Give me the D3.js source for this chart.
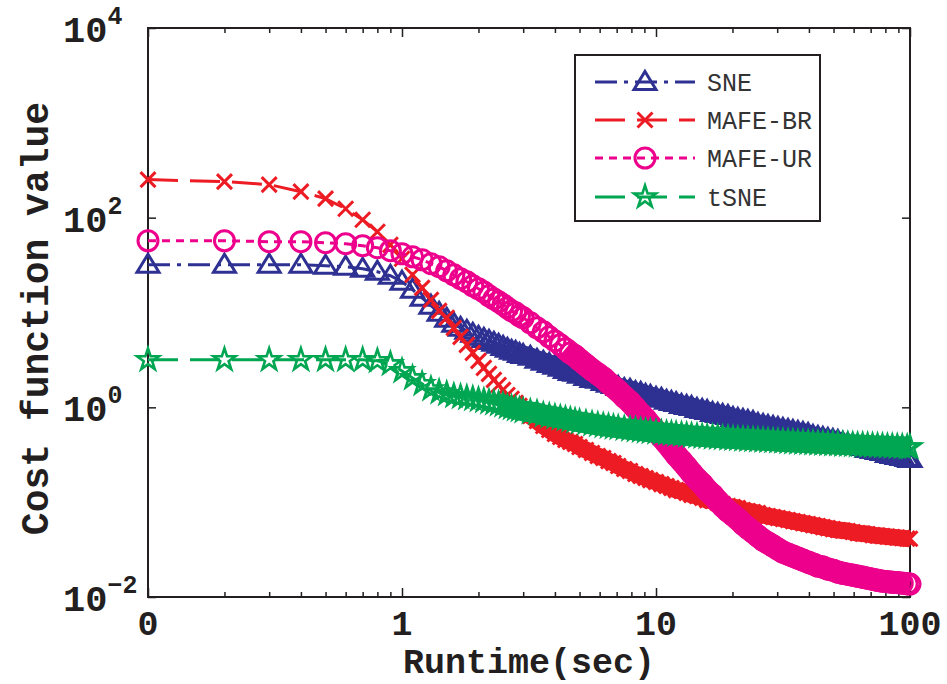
<!DOCTYPE html>
<html>
<head>
<meta charset="utf-8">
<script src="https://cdn.jsdelivr.net/npm/d3@7"></script>
<style>
  html, body { margin: 0; padding: 0; background: #ffffff; }
  svg { display: block; }
</style>
</head>
<body>
<script>
// Runtime (seconds) at which each cost value was recorded
const runtime = [
  0.1,0.2,0.3,0.4,0.5,0.6,0.7,0.8,0.9,1.0,
  1.1,1.2,1.3,1.4,1.5,1.6,1.7,1.8,1.9,2.0,
  2.1,2.2,2.3,2.4,2.5,2.6,2.7,2.8,2.9,3.0,
  3.2,3.4,3.6,3.8,4.0,4.2,4.4,4.6,4.8,5.0,
  5.3,5.6,5.9,6.2,6.5,6.8,7.1,7.5,7.9,8.3,
  8.7,9.1,9.5,10.0,10.5,11.0,11.5,12.0,12.6,13.2,
  13.8,14.5,15.2,15.9,16.7,17.5,18.3,19.2,20.1,21.0,
  22.0,23.0,24.1,25.2,26.4,27.6,28.9,30.2,31.6,33.1,
  34.6,36.2,37.9,39.7,41.5,43.4,45.4,47.5,49.7,52.0,
  54.4,56.9,59.5,62.2,65.1,68.1,71.2,74.5,77.9,81.5,
  85.2,89.1,93.2,97.5,100
];

// Cost function value per method
const sneCost = [
  31.9,31.9,31.9,31.9,31.1,30.4,28.9,26.9,24.4,21.1,
  17.4,14.3,11.8,9.92,8.58,7.59,6.89,6.41,5.96,5.54,
  5.27,5.02,4.79,4.56,4.34,4.14,3.94,3.85,3.66,3.57,
  3.41,3.17,3.02,2.87,2.74,2.61,2.48,2.36,2.31,2.20,
  2.09,1.99,1.95,1.85,1.77,1.72,1.64,1.56,1.53,1.45,
  1.42,1.35,1.32,1.26,1.23,1.17,1.14,1.11,1.06,1.035,
  1.01,0.962,0.939,0.916,0.873,0.852,0.831,0.811,0.773,0.754,
  0.736,0.718,0.701,0.668,0.652,0.636,0.621,0.606,0.592,0.577,
  0.563,0.550,0.537,0.524,0.499,0.487,0.475,0.464,0.453,0.442,
  0.421,0.411,0.401,0.391,0.382,0.364,0.355,0.347,0.338,0.322,
  0.314,0.307,0.300,0.292,0.285
];

const mafeBrCost = [
  252,240,223,188,159,124,95.2,71.1,51.8,36.9,
  25.0,18.2,13.6,10.4,8.79,6.89,5.54,4.56,3.75,3.09,
  2.61,2.25,1.95,1.72,1.53,1.35,1.23,1.113,1.035,0.962,
  0.811,0.718,0.636,0.577,0.524,0.487,0.453,0.431,0.411,0.382,
  0.355,0.330,0.307,0.292,0.271,0.259,0.241,0.224,0.213,0.198,
  0.189,0.180,0.171,0.163,0.155,0.148,0.141,0.134,0.131,0.125,
  0.119,0.116,0.111,0.105,0.103,0.0979,0.0956,0.0910,0.0889,0.0867,
  0.0826,0.0806,0.0787,0.0768,0.0731,0.0714,0.0697,0.0680,0.0664,0.0648,
  0.0632,0.0617,0.0602,0.0588,0.0573,0.0560,0.0546,0.0533,0.0520,0.0508,
  0.0502,0.0496,0.0484,0.0472,0.0466,0.0461,0.0449,0.0444,0.0439,0.0433,
  0.0428,0.0423,0.0418,0.0413,0.0411
];

const mafeUrCost = [
  57.1,57.1,55.8,55.8,54.4,53.1,50.6,48.2,44.8,41.6,
  38.7,36.0,32.7,30.4,27.5,25.0,22.7,21.1,19.1,17.8,
  16.5,15.0,13.9,13.0,12.1,11.2,10.4,9.92,9.23,8.79,
  7.78,6.89,6.25,5.54,5.02,4.56,4.14,3.75,3.49,3.17,
  2.80,2.48,2.25,2.04,1.81,1.64,1.49,1.29,1.14,0.986,
  0.852,0.754,0.652,0.563,0.487,0.421,0.364,0.314,0.272,0.235,
  0.203,0.175,0.155,0.134,0.119,0.103,0.0910,0.0806,0.0731,0.0664,
  0.0588,0.0533,0.0484,0.0439,0.0398,0.0371,0.0345,0.0320,0.0298,0.0283,
  0.0270,0.0257,0.0245,0.0233,0.0223,0.0212,0.0207,0.0197,0.0192,0.0183,
  0.0178,0.0174,0.0170,0.0166,0.0162,0.0158,0.0154,0.0150,0.0147,0.0145,
  0.0143,0.0142,0.0140,0.0138,0.0137
];

const tsneCost = [
  3.17,3.17,3.17,3.17,3.17,3.17,3.17,3.09,2.87,2.42,
  2.04,1.77,1.56,1.45,1.385,1.32,1.29,1.26,1.23,1.20,
  1.17,1.14,1.11,1.086,1.06,1.01,0.986,0.962,0.939,0.916,
  0.894,0.873,0.831,0.811,0.792,0.773,0.754,0.736,0.718,0.701,
  0.684,0.668,0.653,0.640,0.628,0.617,0.607,0.596,0.586,0.577,
  0.568,0.560,0.553,0.545,0.538,0.532,0.526,0.520,0.515,0.508,
  0.502,0.497,0.492,0.488,0.484,0.480,0.476,0.472,0.468,0.465,
  0.461,0.458,0.455,0.452,0.449,0.446,0.443,0.440,0.437,0.434,
  0.431,0.428,0.426,0.423,0.421,0.418,0.416,0.413,0.411,0.409,
  0.406,0.404,0.402,0.400,0.398,0.396,0.394,0.392,0.390,0.388,
  0.386,0.384,0.383,0.381,0.380
];

const seriesNames = ["SNE", "MAFE-BR", "MAFE-UR", "tSNE"];
const seriesValues = [sneCost, mafeBrCost, mafeUrCost, tsneCost];

// Axis ticks and their labels
const xTickValues = [0.1, 1, 10, 100];
const xTickLabels = ["0", "1", "10", "100"];
const yTickValues = [1e-2, 1e0, 1e2, 1e4];
const yTickExponents = ["\u22122", "0", "2", "4"];

const xLabel = "Runtime(sec)";
const yLabel = "Cost function value";

// ---- styling ----
const W = 947, H = 684;
const plot = { left: 148, right: 910, top: 28, bottom: 597 };
const ink = "#231f20";
const monoFont = "'Liberation Mono', 'Courier New', Courier, monospace";

// bandFrom: runtime after which the markers sit so close together that
// they merge into one solid ribbon; bandWidth is that ribbon's thickness
const styles = [
  { color: "#2e3192", dash: "22,7,4,7", marker: "triangle", bandFrom: 2.8, bandWidth: 19 },
  { color: "#ed1c24", dash: "30,12",    marker: "cross",    bandFrom: 2.8, bandWidth: 17 },
  { color: "#ec008c", dash: "8,6",      marker: "circle",   bandFrom: 4.4, bandWidth: 23 },
  { color: "#00a651", dash: "30,12",    marker: "star",     bandFrom: 2.4, bandWidth: 21 }
];

function markerPath(kind) {
  if (kind === "triangle") return "M0,-10.5L11,7.5L-11,7.5Z";
  if (kind === "cross") return "M-7.5,-7.5L7.5,7.5M-7.5,7.5L7.5,-7.5";
  if (kind === "circle") return "M10,0A10,10 0 1,1 -10,0A10,10 0 1,1 10,0Z";
  // five-pointed star
  const R = 11.5, r = 4.4;
  let p = "";
  for (let i = 0; i < 10; i++) {
    const rad = i % 2 === 0 ? R : r;
    const a = -Math.PI / 2 + i * Math.PI / 5;
    p += (i === 0 ? "M" : "L") + (rad * Math.cos(a)).toFixed(2) + "," + (rad * Math.sin(a)).toFixed(2);
  }
  return p + "Z";
}

const svg = d3.select("body").append("svg")
  .attr("width", W).attr("height", H)
  .attr("viewBox", `0 0 ${W} ${H}`);

svg.append("rect").attr("width", W).attr("height", H).attr("fill", "#fff");

const x = d3.scaleLog().domain([0.1, 100]).range([plot.left, plot.right]);
const y = d3.scaleLog().domain([1e-2, 1e4]).range([plot.bottom, plot.top]);

// ---- frame ----
svg.append("rect")
  .attr("x", plot.left).attr("y", plot.top)
  .attr("width", plot.right - plot.left).attr("height", plot.bottom - plot.top)
  .attr("fill", "none").attr("stroke", ink).attr("stroke-width", 2);

// ---- ticks (inward, mirrored on opposite sides) ----
const xMinor = [];
[0.1, 1, 10].forEach(d => { for (let k = 2; k <= 9; k++) xMinor.push(d * k); });

function tickGroup(axis, tx, ty) {
  const g = svg.append("g").attr("transform", `translate(${tx},${ty})`).call(axis);
  g.select(".domain").remove();
  g.selectAll("text").remove();
  g.selectAll("line").attr("stroke", ink).attr("stroke-width", 1.5);
  return g;
}
tickGroup(d3.axisBottom(x).tickValues(xTickValues).tickSizeInner(-9).tickSizeOuter(0), 0, plot.bottom);
tickGroup(d3.axisBottom(x).tickValues(xMinor).tickSizeInner(-5).tickSizeOuter(0), 0, plot.bottom);
tickGroup(d3.axisTop(x).tickValues(xTickValues).tickSizeInner(-9).tickSizeOuter(0), 0, plot.top);
tickGroup(d3.axisTop(x).tickValues(xMinor).tickSizeInner(-5).tickSizeOuter(0), 0, plot.top);
tickGroup(d3.axisLeft(y).tickValues(yTickValues).tickSizeInner(-8).tickSizeOuter(0), plot.left, 0);
tickGroup(d3.axisRight(y).tickValues(yTickValues).tickSizeInner(-8).tickSizeOuter(0), plot.right, 0);

// ---- tick labels ----
svg.append("g").selectAll("text")
  .data(xTickValues)
  .join("text")
  .attr("x", d => x(d))
  .attr("y", 635)
  .attr("text-anchor", "middle")
  .attr("font-family", monoFont)
  .attr("font-weight", "bold")
  .attr("font-size", 35)
  .attr("fill", ink)
  .text((d, i) => xTickLabels[i]);

const yLab = svg.append("g").selectAll("text")
  .data(yTickValues)
  .join("text")
  .attr("x", 63)
  .attr("y", d => y(d) + 14)
  .attr("font-family", monoFont)
  .attr("font-weight", "bold")
  .attr("font-size", 37)
  .attr("fill", ink);
yLab.append("tspan").text("10");
yLab.append("tspan")
  .attr("font-size", 25)
  .attr("dy", -18)
  .text((d, i) => yTickExponents[i]);

// ---- axis titles ----
svg.append("text")
  .attr("x", (plot.left + plot.right) / 2)
  .attr("y", 673)
  .attr("text-anchor", "middle")
  .attr("font-family", monoFont)
  .attr("font-weight", "bold")
  .attr("font-size", 35)
  .attr("fill", ink)
  .text(xLabel);

svg.append("text")
  .attr("transform", `translate(48,${(plot.top + plot.bottom) / 2 + 6}) rotate(-90)`)
  .attr("text-anchor", "middle")
  .attr("font-family", monoFont)
  .attr("font-weight", "bold")
  .attr("font-size", 38)
  .attr("fill", ink)
  .text(yLabel);

// ---- series: connecting line, merged ribbon, then a marker at every point ----
const line = d3.line().x(d => x(d.t)).y(d => y(d.v));

seriesValues.forEach((vals, si) => {
  const st = styles[si];
  const rows = runtime.map((t, i) => ({ t, v: vals[i] }));
  const g = svg.append("g").attr("class", "series");
  g.append("path")
    .datum(rows)
    .attr("d", line)
    .attr("fill", "none")
    .attr("stroke", st.color)
    .attr("stroke-width", 3)
    .attr("stroke-dasharray", st.dash);
  g.append("path")
    .datum(rows.filter(d => d.t >= st.bandFrom))
    .attr("d", line)
    .attr("fill", "none")
    .attr("stroke", st.color)
    .attr("stroke-width", st.bandWidth)
    .attr("stroke-linejoin", "round");
  g.selectAll("path.mk")
    .data(rows)
    .join("path")
    .attr("class", "mk")
    .attr("transform", d => `translate(${x(d.t)},${y(d.v)})`)
    .attr("d", markerPath(st.marker))
    .attr("fill", "none")
    .attr("stroke", st.color)
    .attr("stroke-width", st.marker === "star" ? 2.6 : 3)
    .attr("stroke-linejoin", "miter");
});

// ---- legend ----
const legend = svg.append("g");
legend.append("rect")
  .attr("x", 575).attr("y", 55)
  .attr("width", 245).attr("height", 166)
  .attr("fill", "#fff").attr("stroke", ink).attr("stroke-width", 2);

const legendRows = [82, 120, 158, 197];
seriesNames.forEach((name, i) => {
  const st = styles[i];
  const ly = legendRows[i];
  legend.append("line")
    .attr("x1", 595).attr("x2", 695).attr("y1", ly).attr("y2", ly)
    .attr("stroke", st.color).attr("stroke-width", 3)
    .attr("stroke-dasharray", st.dash);
  legend.append("path")
    .attr("transform", `translate(645,${ly})`)
    .attr("d", markerPath(st.marker))
    .attr("fill", "none").attr("stroke", st.color)
    .attr("stroke-width", st.marker === "star" ? 2.6 : 3);
  legend.append("text")
    .attr("x", 707).attr("y", ly + 9)
    .attr("font-family", monoFont)
    .attr("font-size", 25)
    .attr("fill", "#333")
    .text(name);
});
</script>
</body>
</html>
